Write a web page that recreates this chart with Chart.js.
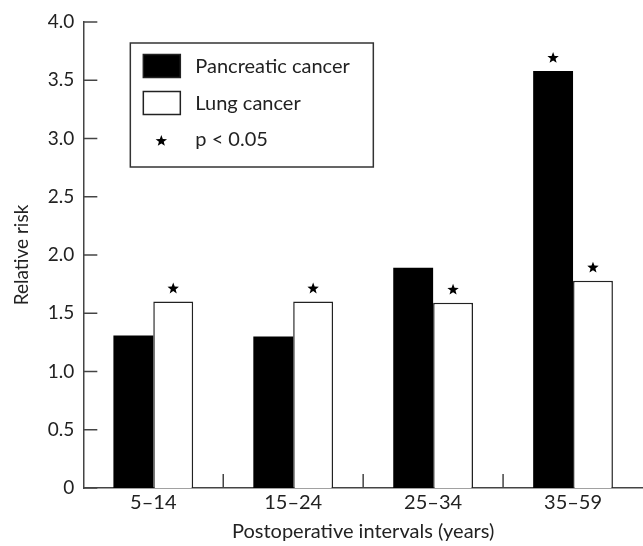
<!DOCTYPE html>
<html>
<head>
<meta charset="utf-8">
<script src="https://cdn.jsdelivr.net/npm/chart.js@4"></script>
<style>
  body { margin: 0; background: #fff; }
  #wrap { width: 643px; height: 546px; }
</style>
</head>
<body>
<div id="wrap"><canvas id="chart" width="643" height="546"></canvas></div>
<script>
// data
const categories = ['5–14', '15–24', '25–34', '35–59'];
const pancreatic = [1.31, 1.30, 1.89, 3.58];
const lung = [1.60, 1.60, 1.59, 1.78];
const pancreaticSig = [false, false, false, true];
const lungSig = [true, true, true, true];
const sigLabel = 'p < 0.05';
const yMax = 4.0;
const yStep = 0.5;

const ink = '#222';
const axisColor = '#444';
const fontFamily = 'Lato, "Noto Sans", sans-serif';

function drawStar(ctx, cx, cy, r) {
    ctx.beginPath();
    for (let i = 0; i < 10; i++) {
        const rad = i % 2 === 0 ? r : r * 0.42;
        const a = -Math.PI / 2 + i * Math.PI / 5;
        const px = cx + rad * Math.cos(a), py = cy + rad * Math.sin(a);
        if (i === 0) ctx.moveTo(px, py); else ctx.lineTo(px, py);
    }
    ctx.closePath();
    ctx.fill();
}

function line(ctx, x1, y1, x2, y2) {
    ctx.beginPath();
    ctx.moveTo(x1, y1);
    ctx.lineTo(x2, y2);
    ctx.stroke();
}

const extras = {
    id: 'extras',
    afterDatasetsDraw(chart) {
        const ctx = chart.ctx;
        const { left, top, bottom } = chart.chartArea;
        const xs = chart.scales.x, ys = chart.scales.y;
        ctx.save();
        ctx.strokeStyle = axisColor;
        ctx.lineWidth = 1.5;

        // inward tick marks
        ys.ticks.forEach(t => {
            const py = ys.getPixelForValue(t.value);
            line(ctx, left, py, left + 14, py);
        });
        for (let i = 1; i < categories.length; i++) {
            const px = (xs.getPixelForValue(i - 1) + xs.getPixelForValue(i)) / 2;
            line(ctx, px, bottom, px, bottom - 14);
        }

        // significance stars
        ctx.fillStyle = '#000';
        [pancreaticSig, lungSig].forEach((sig, di) => {
            chart.getDatasetMeta(di).data.forEach((bar, i) => {
                if (sig[i]) drawStar(ctx, bar.x, bar.y - 13, 6);
            });
        });

        // legend box
        const bx = left + 47, by = top + 21, bw = 243, bh = 124;
        ctx.fillStyle = '#fff';
        ctx.fillRect(bx, by, bw, bh);
        ctx.strokeStyle = '#333';
        ctx.strokeRect(bx, by, bw, bh);

        const ds = chart.data.datasets;
        ctx.font = '20px ' + fontFamily;
        ctx.textBaseline = 'middle';
        ctx.textAlign = 'left';
        [0, 1].forEach(i => {
            const cy = by + 23 + i * 37;
            ctx.fillStyle = ds[i].backgroundColor;
            ctx.fillRect(bx + 13, cy - 11.5, 37, 23);
            ctx.strokeStyle = '#222';
            ctx.strokeRect(bx + 13, cy - 11.5, 37, 23);
            ctx.fillStyle = ink;
            ctx.fillText(ds[i].label, bx + 65, cy + 1);
        });
        const sy = by + 98;
        ctx.fillStyle = '#000';
        drawStar(ctx, bx + 31, sy, 6);
        ctx.fillStyle = ink;
        ctx.fillText(sigLabel, bx + 65, sy - 1);
        ctx.restore();
    }
};

new Chart(document.getElementById('chart'), {
    type: 'bar',
    data: {
        labels: categories,
        datasets: [{
            label: 'Pancreatic cancer',
            data: pancreatic,
            backgroundColor: '#000',
            borderColor: '#000',
            borderWidth: 0,
            categoryPercentage: 0.57,
            barPercentage: 1.0
        }, {
            label: 'Lung cancer',
            data: lung,
            backgroundColor: '#fff',
            borderColor: '#222',
            borderWidth: 1.5,
            borderSkipped: 'bottom',
            categoryPercentage: 0.57,
            barPercentage: 1.0
        }]
    },
    options: {
        responsive: false,
        animation: false,
        layout: { padding: { top: 22, right: 0, left: 8, bottom: 0 } },
        plugins: {
            legend: { display: false },
            tooltip: { enabled: false }
        },
        scales: {
            x: {
                grid: { display: false, drawTicks: false },
                border: { display: true, color: axisColor, width: 1.5 },
                ticks: { color: ink, padding: 3, font: { family: fontFamily, size: 20 } },
                title: {
                    display: true,
                    text: 'Postoperative intervals (years)',
                    color: ink,
                    padding: { top: 2, bottom: 2 },
                    font: { family: fontFamily, size: 20 }
                }
            },
            y: {
                min: 0,
                max: yMax,
                grid: { display: false, drawTicks: false },
                border: { display: true, color: axisColor, width: 1.5 },
                ticks: {
                    stepSize: yStep,
                    color: ink,
                    padding: 9,
                    font: { family: fontFamily, size: 19 },
                    callback: v => v === 0 ? '0' : v.toFixed(1)
                },
                title: {
                    display: true,
                    text: 'Relative risk',
                    color: ink,
                    padding: { top: 2, bottom: 6 },
                    font: { family: fontFamily, size: 19 }
                }
            }
        }
    },
    plugins: [extras]
});
</script>
</body>
</html>
